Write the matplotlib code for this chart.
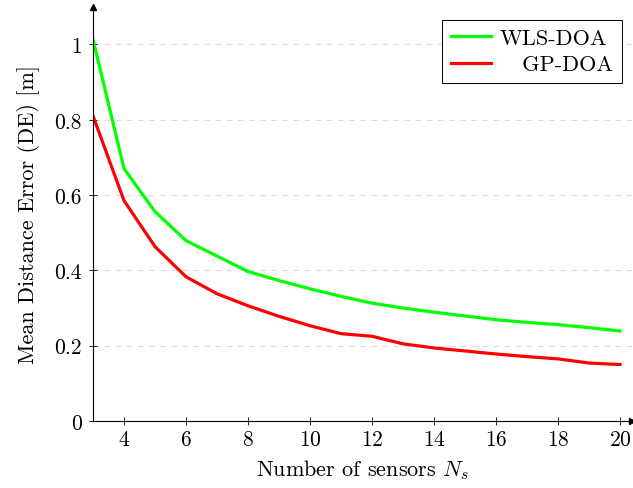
import matplotlib
matplotlib.use('Agg')
import matplotlib.pyplot as plt

plt.rcParams['font.family'] = 'cmr10'
plt.rcParams['mathtext.fontset'] = 'cm'
plt.rcParams['axes.unicode_minus'] = False
plt.rcParams['axes.formatter.use_mathtext'] = True

# data
sensors = [3, 4, 5, 6, 7, 8, 9, 10, 11, 12, 13, 14, 15, 16, 17, 18, 19, 20]
wls_doa = [1.013, 0.67, 0.556, 0.479, 0.438, 0.397, 0.373, 0.351, 0.331, 0.313,
           0.300, 0.289, 0.279, 0.269, 0.262, 0.256, 0.248, 0.239]
gp_doa = [0.81, 0.585, 0.463, 0.383, 0.338, 0.306, 0.278, 0.253, 0.232, 0.225,
          0.205, 0.194, 0.186, 0.178, 0.171, 0.165, 0.154, 0.150]
x_ticks = [4, 6, 8, 10, 12, 14, 16, 18, 20]
y_ticks = [0, 0.2, 0.4, 0.6, 0.8, 1.0]
y_labels = ['0', '0.2', '0.4', '0.6', '0.8', '1']

fig = plt.figure(figsize=(6.33, 4.89), dpi=100)
ax = fig.add_axes([0.147, 0.137, 0.852, 0.847])

ax.plot(sensors, wls_doa, color='#00ff00', lw=2.3, label='WLS-DOA')
ax.plot(sensors, gp_doa, color='#ff0000', lw=2.3, label='   GP-DOA')

ax.set_xlim(3, 20.4)
ax.set_ylim(0, 1.1)
ax.set_xticks(x_ticks)
ax.set_yticks(y_ticks)
ax.set_yticklabels(y_labels)
ax.tick_params(direction='inout', length=6, width=0.6, labelsize=15.5)
ax.tick_params(axis='x', pad=3)
ax.tick_params(axis='y', pad=5)

ax.grid(True, axis='y', color='#dddddd', linestyle=(0, (5, 5)), lw=0.8)
ax.set_axisbelow(True)

for side in ('top', 'right'):
    ax.spines[side].set_visible(False)
for side in ('left', 'bottom'):
    ax.spines[side].set_linewidth(0.8)

# axis arrows
ax.plot(1, 0, '>k', ms=4, transform=ax.transAxes, clip_on=False)
ax.plot(0, 1, '^k', ms=4, transform=ax.transAxes, clip_on=False)

ax.set_xlabel('Number of sensors $N_s$', fontsize=16, labelpad=6)
ax.set_ylabel('Mean Distance Error (DE) [m]', fontsize=16, labelpad=10)

leg = ax.legend(loc='upper right', bbox_to_anchor=(0.98, 0.969), fontsize=16,
                fancybox=False, framealpha=1, edgecolor='black',
                handlelength=1.8, handletextpad=0.4, borderpad=0.4,
                labelspacing=0.3, borderaxespad=0)
leg.get_frame().set_linewidth(0.7)

fig.savefig('out.png', dpi=100)
